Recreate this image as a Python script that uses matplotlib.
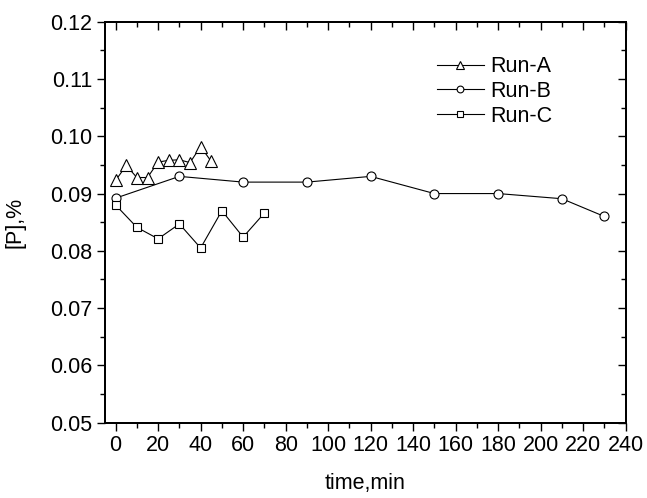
import matplotlib
matplotlib.use('Agg')
import matplotlib.pyplot as plt
from matplotlib.ticker import MultipleLocator, FormatStrFormatter

plt.rcParams['font.family'] = ['Liberation Sans', 'DejaVu Sans']

# Run-A
time_a = [0, 5, 10, 15, 20, 25, 30, 35, 40, 45]
p_a = [0.0923, 0.0949, 0.0928, 0.0928, 0.0955, 0.0958, 0.0959, 0.0954, 0.0982, 0.0956]

# Run-B
time_b = [0, 30, 60, 90, 120, 150, 180, 210, 230]
p_b = [0.0892, 0.0930, 0.0920, 0.0920, 0.0930, 0.0900, 0.0900, 0.0891, 0.0860]

# Run-C
time_c = [0, 10, 20, 30, 40, 50, 60, 70]
p_c = [0.0880, 0.0841, 0.0821, 0.0847, 0.0805, 0.0870, 0.0824, 0.0866]

fig = plt.figure(figsize=(6.47, 4.98), dpi=100)
ax = fig.add_axes([0.1623, 0.1512, 0.8047, 0.8052])

style = dict(color='black', linewidth=0.8, markerfacecolor='white',
             markeredgecolor='black', markeredgewidth=0.8)
ax.plot(time_a, p_a, marker='^', markersize=8, label='Run-A', **style)
ax.plot(time_b, p_b, marker='o', markersize=6.5, label='Run-B', **style)
ax.plot(time_c, p_c, marker='s', markersize=5.5, label='Run-C', **style)

XLIM = (-5, 240)
YLIM = (0.05, 0.12)
ax.set_xlim(*XLIM)
ax.set_ylim(*YLIM)
ax.xaxis.set_major_locator(MultipleLocator(20))
ax.xaxis.set_minor_locator(MultipleLocator(10))
ax.yaxis.set_major_locator(MultipleLocator(0.01))
ax.yaxis.set_minor_locator(MultipleLocator(0.005))
ax.yaxis.set_major_formatter(FormatStrFormatter('%.2f'))

ax.tick_params(which='both', direction='out', top=False, right=False,
               labelsize=15.5, width=1)
ax.tick_params(which='major', length=6, pad=3)
ax.tick_params(which='minor', length=3.5)

# mirrored inward ticks on top and right, no labels
ax_top = ax.twiny()
ax_top.set_xlim(*XLIM)
ax_top.xaxis.set_major_locator(MultipleLocator(20))
ax_top.xaxis.set_minor_locator(MultipleLocator(10))
ax_top.tick_params(which='both', direction='in', labeltop=False, width=1)
ax_top.tick_params(which='major', length=6)
ax_top.tick_params(which='minor', length=3.5)

ax_right = ax.twinx()
ax_right.set_ylim(*YLIM)
ax_right.yaxis.set_major_locator(MultipleLocator(0.01))
ax_right.yaxis.set_minor_locator(MultipleLocator(0.005))
ax_right.tick_params(which='both', direction='in', labelright=False, width=1)
ax_right.tick_params(which='major', length=6)
ax_right.tick_params(which='minor', length=3.5)

for a in (ax, ax_top, ax_right):
    for s in a.spines.values():
        s.set_linewidth(1.2)

ax.set_xlabel('time,min', fontsize=15.5, labelpad=12)
ax.set_ylabel('[P],%', fontsize=15.5, labelpad=18)

ax_right.legend(*ax.get_legend_handles_labels(),
                loc='upper left', bbox_to_anchor=(0.6, 0.962), frameon=False,
                fontsize=15.5, handlelength=2.2, handletextpad=0.3,
                labelspacing=0.17, markerscale=0.75)

fig.savefig('out.png', dpi=100)
